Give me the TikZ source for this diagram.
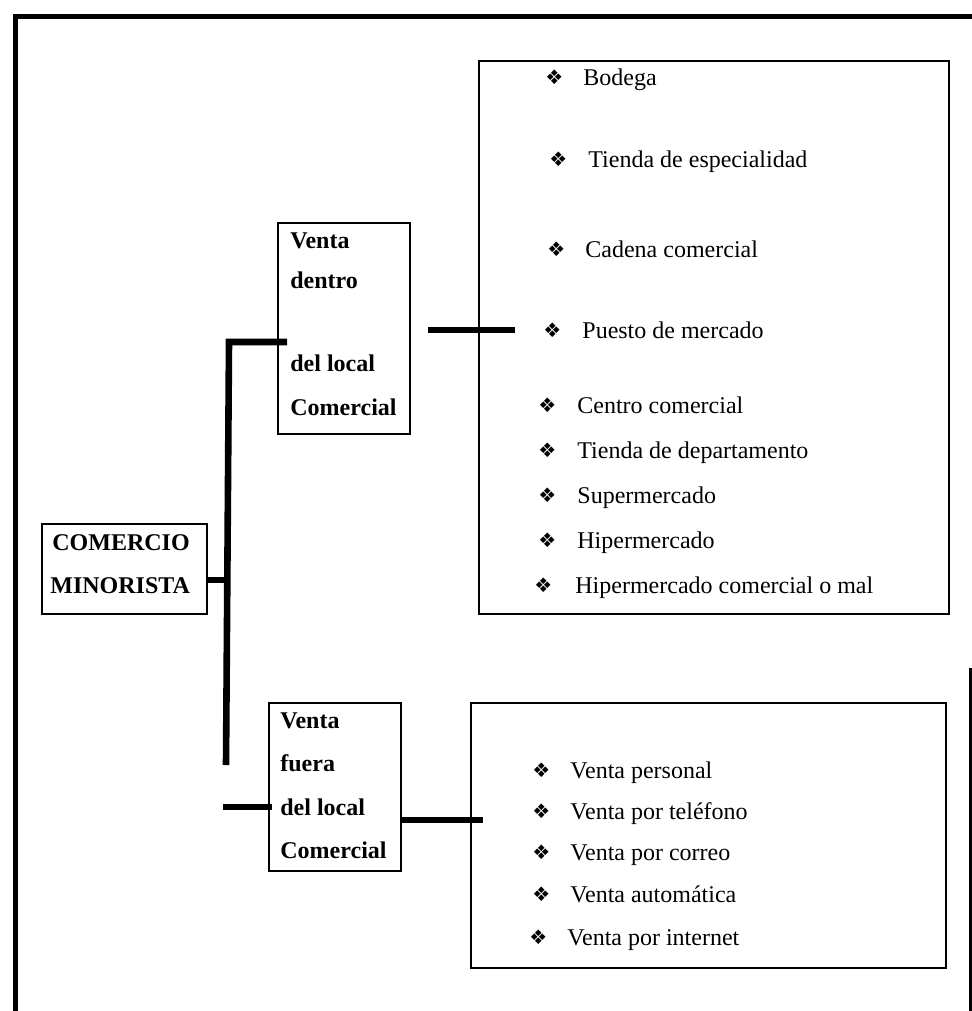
\documentclass[tikz,border=0pt]{standalone}
\usepackage{fontspec}
\setmainfont{Liberation Serif}
\newfontfamily\symfont{DejaVu Sans}
\begin{document}
\begin{tikzpicture}[x=0.5pt,y=-0.5pt,
  box/.style={draw,line width=1pt,inner sep=0pt,anchor=north west},
  frameline/.style={line width=2.5pt},
  conn/.style={line width=3.3pt},
  item/.style={anchor=base west,inner sep=0pt,font=\fontsize{12}{14}\selectfont},
  bul/.style={anchor=base west,inner sep=0pt,font=\symfont\fontsize{10}{12}\selectfont},
  lbl/.style={anchor=base west,inner sep=0pt,font=\bfseries\fontsize{12}{14}\selectfont}]
\useasboundingbox (0,0) rectangle (972,1011);

% outer frame
\draw[frameline] (15,1011) -- (15,17) -- (972,17);
\draw[line width=1.5pt] (970,668) -- (970,1011);

% boxes
\node[box,minimum width=235pt,minimum height=276.5pt] (r1) at (478,60) {};
\node[box,minimum width=66pt,minimum height=105.5pt] (d1) at (277,222) {};
\node[box,minimum width=82.5pt,minimum height=45pt] (cm) at (41,523) {};
\node[box,minimum width=66pt,minimum height=84pt] (d2) at (268,702) {};
\node[box,minimum width=237.5pt,minimum height=132.5pt] (r2) at (470,702) {};

% root label
\node[lbl] (cm1) at (52,550) {COMERCIO};
\node[lbl] (cm2) at (50,593) {MINORISTA};

% branch labels
\node[lbl] (d1a) at (290,248) {Venta};
\node[lbl] (d1b) at (290,288) {dentro};
\node[lbl] (d1c) at (290,371) {del local};
\node[lbl] (d1d) at (290,415) {Comercial};

\node[lbl] (d2a) at (280,728) {Venta};
\node[lbl] (d2b) at (280,771) {fuera};
\node[lbl] (d2c) at (280,815) {del local};
\node[lbl] (d2d) at (280,858) {Comercial};

% list inside the upper box
\foreach \n/\bx/\tx/\y/\t in {
  1/545/583/86/Bodega,
  2/549/588/167/Tienda de especialidad,
  3/547/585/257/Cadena comercial,
  4/543/582/338/Puesto de mercado,
  5/538/577/413/Centro comercial,
  6/538/577/458/Tienda de departamento,
  7/538/577/503/Supermercado,
  8/538/577/548/Hipermercado,
  9/534/575/593/Hipermercado comercial o mal}{
  \node[bul] (ub\n) at (\bx,\y-1) {❖};
  \node[item] (ut\n) at (\tx,\y) {\t};
}

% list inside the lower box
\foreach \n/\bx/\tx/\y/\t in {
  1/532/570/778/Venta personal,
  2/532/570/819/Venta por teléfono,
  3/532/570/860/Venta por correo,
  4/532/570/902/Venta automática,
  5/529/567/945/Venta por internet}{
  \node[bul] (lb\n) at (\bx,\y-1) {❖};
  \node[item] (lt\n) at (\tx,\y) {\t};
}

% connector points
\coordinate (jm) at (229,580);
\coordinate (jt) at (229,342);
\coordinate (jb) at (226,765);
\coordinate (e1) at (287,342);
\coordinate (a1) at (428,330);
\coordinate (a2) at (515,330);
\coordinate (b1) at (223,807);
\coordinate (b2) at (272,807);
\coordinate (c2) at (483,820);

% connectors
\draw[conn] (cm.east |- jm) -- (jm);
\draw[conn] (jb) -- (jt) -- (e1);
\draw[conn] (a1) -- (a2);
\draw[conn] (b1) -- (b2);
\draw[conn] (d2.east |- c2) -- (c2);
\end{tikzpicture}
\end{document}
